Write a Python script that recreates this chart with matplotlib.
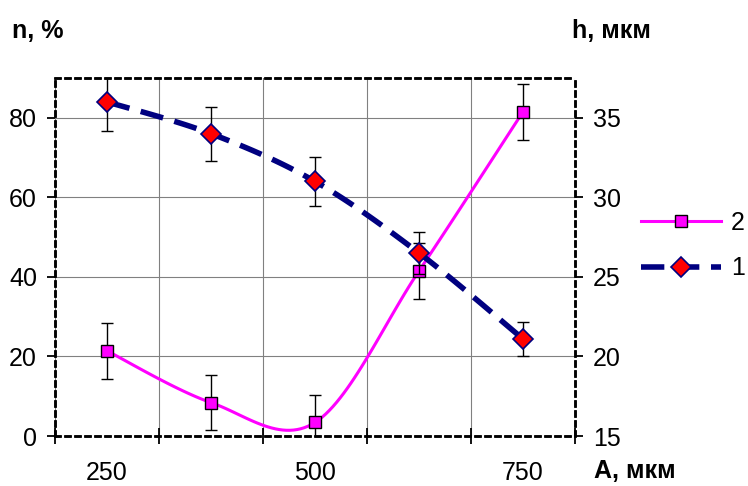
import numpy as np
import matplotlib
matplotlib.use("Agg")
from matplotlib import pyplot as plt
from matplotlib.lines import Line2D

plt.rcParams['font.family'] = ['Liberation Sans', 'DejaVu Sans']

# data
categories = ['250', '375', '500', '625', '750']
n_percent = [21.4, 8.4, 3.4, 41.5, 81.5]      # series 2, left axis
n_err = [7, 7, 7, 7, 7]
h_mkm = [36.0, 34.0, 31.0, 26.5, 21.1]        # series 1, right axis
h_err = [1.8, 1.7, 1.55, 1.3, 1.05]


def smooth(xs, ys, steps=30):
    # excel-like smoothed line (catmull-rom bezier)
    xs = np.asarray(xs, float)
    ys = np.asarray(ys, float)
    px = np.concatenate([[xs[0]], xs, [xs[-1]]])
    py = np.concatenate([[ys[0]], ys, [ys[-1]]])
    outx, outy = [], []
    t = np.linspace(0, 1, steps)
    for i in range(1, len(px) - 2):
        p0 = np.array([px[i], py[i]])
        p3 = np.array([px[i + 1], py[i + 1]])
        p1 = p0 + (p3 - np.array([px[i - 1], py[i - 1]])) / 6
        p2 = p3 - (np.array([px[i + 2], py[i + 2]]) - p0) / 6
        b = ((1 - t) ** 3)[:, None] * p0 + (3 * (1 - t) ** 2 * t)[:, None] * p1 \
            + (3 * (1 - t) * t ** 2)[:, None] * p2 + (t ** 3)[:, None] * p3
        outx.extend(b[:, 0])
        outy.extend(b[:, 1])
    return outx, outy


x = np.arange(len(categories))

fig = plt.figure(figsize=(7.48, 4.86), dpi=100)
ax = fig.add_axes([55 / 748, 50 / 486, 520 / 748, 358 / 486])
ax2 = ax.twinx()

# series 2 (left axis)
sx, sy = smooth(x, n_percent)
ax.plot(sx, sy, color='#FF00FF', lw=2.2, zorder=3, clip_on=False)
ax.errorbar(x, n_percent, yerr=n_err, fmt='none', ecolor='black', elinewidth=1,
            capsize=4.5, capthick=1, zorder=4)
ax.plot(x, n_percent, 's', color='#FF00FF', mec='black', mew=1, ms=9, zorder=5, clip_on=False)

# series 1 (right axis)
hx, hy = smooth(x, h_mkm)
ax2.plot(hx, hy, color='#000080', lw=4, ls=(0, (4.2, 2.1)), zorder=3)
ax2.errorbar(x, h_mkm, yerr=h_err, fmt='none', ecolor='black', elinewidth=1,
             capsize=4.5, capthick=1, zorder=4)
ax2.plot(x, h_mkm, 'D', color='#FF0000', mec='#000080', mew=1.2, ms=10, zorder=5)

ax.set_xlim(-0.5, 4.5)
ax.set_ylim(0, 90)
ax2.set_ylim(15, 37.5)

ax.set_yticks([0, 20, 40, 60, 80])
ax2.set_yticks([15, 20, 25, 30, 35])

# category boundaries as major ticks, labels every other category as minor ticks
ax.set_xticks(np.arange(-0.5, 5, 1))
ax.set_xticklabels([])
ax.set_xticks(x[::2], minor=True)
ax.set_xticklabels(categories[::2], minor=True)
ax.tick_params(axis='x', which='major', direction='inout', length=12, width=1.3)
ax.tick_params(axis='x', which='minor', length=0, pad=18, labelsize=18)
ax.tick_params(axis='y', direction='out', length=6, width=1.3, pad=7, labelsize=18)
ax2.tick_params(axis='y', direction='out', length=6, width=1.3, pad=7, labelsize=18)

ax.grid(True, which='major', color='#808080', lw=0.8)
ax.set_axisbelow(True)

for a in (ax, ax2):
    for s in a.spines.values():
        s.set_linestyle((0, (2, 2)))
        s.set_linewidth(1.8)
        s.set_color('black')

fig.text(12 / 748, 1 - 31 / 486, 'n, %', fontsize=18, fontweight='bold', va='center', ha='left')
fig.text(572 / 748, 1 - 31 / 486, 'h, мкм', fontsize=18, fontweight='bold', va='center', ha='left')
fig.text(594 / 748, 1 - 471 / 486, 'A, мкм', fontsize=18, fontweight='bold', va='center', ha='left')

handles = [
    Line2D([], [], color='#FF00FF', lw=2.2, marker='s', mfc='#FF00FF', mec='black', mew=1, ms=9),
    Line2D([], [], color='#000080', lw=4, ls=(0, (4.2, 2.1)), marker='D', mfc='#FF0000',
           mec='#000080', mew=1.2, ms=10),
]
fig.legend(handles, ['2', '1'], loc='upper left', bbox_to_anchor=(641 / 748, 1 - 211 / 486),
           frameon=False, fontsize=18, handlelength=3.2, handletextpad=0.4,
           labelspacing=0.85, borderpad=0, borderaxespad=0)

fig.savefig('out.png', dpi=100)
